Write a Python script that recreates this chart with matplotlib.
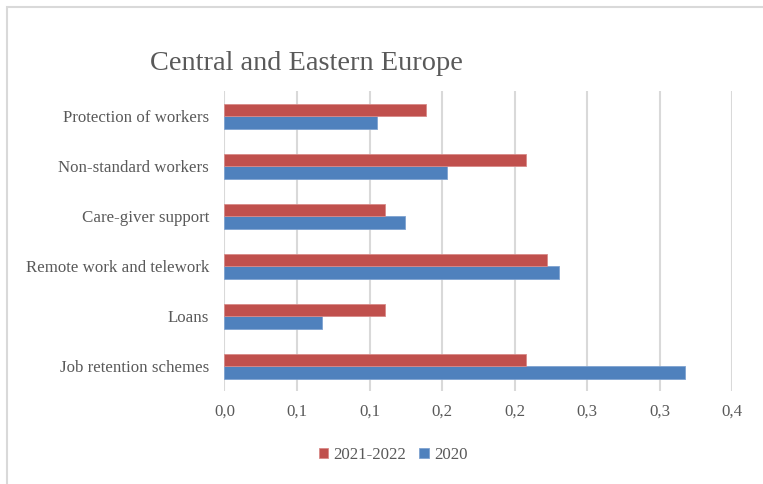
import matplotlib.pyplot as plt
from matplotlib.patches import Rectangle
from matplotlib.ticker import FuncFormatter, MultipleLocator
import numpy as np

# Dados
categorias = ["Job retention schemes", "Loans", "Remote work and telework",
              "Care-giver support", "Non-standard workers", "Protection of workers"]
valores_2020 = [0.3175, 0.0672, 0.2307, 0.1247, 0.1537, 0.1054]
valores_2021_2022 = [0.2082, 0.1110, 0.2222, 0.1107, 0.2079, 0.1388]

cor_2020 = '#4F81BD'
cor_2021 = '#C0504D'
cinza_texto = '#595959'
cinza_grade = '#D9D9D9'

plt.rcParams['font.family'] = ['Liberation Serif', 'DejaVu Serif']

W, H = 763, 484
fig = plt.figure(figsize=(W / 100, H / 100), dpi=100)

# Moldura do gráfico (só aparecem as bordas de cima e da esquerda)
fig.patches.append(Rectangle((6.5 / W, -0.1), 1.2, 1.1 - 6.5 / H,
                             transform=fig.transFigure, fill=False,
                             edgecolor='#D9D9D9', linewidth=1.5))

ax = fig.add_axes([224.5 / W, 1 - 391 / H, (732 - 224.5) / W, 300 / H])

y = np.arange(len(categorias))
altura = 0.25
ax.barh(y - altura / 2, valores_2020, altura, color=cor_2020, label='2020',
        edgecolor='#7FA3D1', linewidth=0.6, zorder=3)
ax.barh(y + altura / 2, valores_2021_2022, altura, color=cor_2021, label='2021-2022',
        edgecolor='#D98A88', linewidth=0.6, zorder=3)

ax.set_xlim(0, 0.35)
ax.set_ylim(-0.5, len(categorias) - 0.5)
ax.xaxis.set_major_locator(MultipleLocator(0.05))
ax.xaxis.set_major_formatter(FuncFormatter(lambda v, p: f'{v + 1e-9:.1f}'.replace('.', ',')))
ax.set_yticks(y)
ax.set_yticklabels(categorias)

ax.grid(axis='x', color=cinza_grade, linewidth=1.5, zorder=0)
for s in ax.spines.values():
    s.set_visible(False)
ax.tick_params(length=0, labelsize=12.2, labelcolor=cinza_texto)
ax.tick_params(axis='x', pad=9)
ax.tick_params(axis='y', pad=11)

fig.text(150 / W, 1 - 64 / H, 'Central and Eastern Europe', fontsize=20.4,
         color=cinza_texto, ha='left', va='center')

handles, labels = ax.get_legend_handles_labels()
fig.legend(handles[::-1], labels[::-1], loc='center', bbox_to_anchor=(393 / W, 1 - 455 / H),
           ncol=2, frameon=False, fontsize=12.2, labelcolor=cinza_texto,
           handlelength=0.55, handleheight=0.55, handletextpad=0.3, columnspacing=0.8)

fig.savefig('out.png', dpi=100)
